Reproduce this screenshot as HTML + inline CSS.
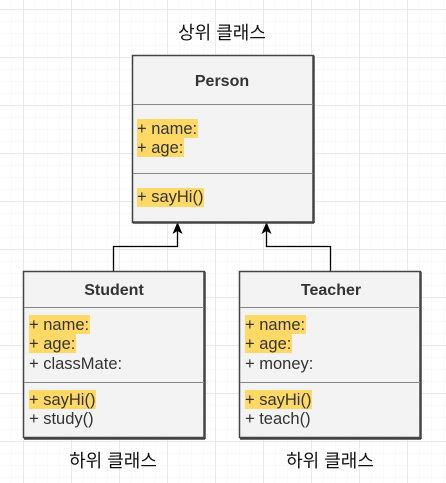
<!DOCTYPE html>
<html><head><meta charset="utf-8"><style>
body{margin:0;width:446px;height:483px;overflow:hidden;background:#fff;font-family:"Liberation Sans","Noto Sans CJK KR",sans-serif;}
svg{position:absolute;left:0;top:0}
</style></head><body>
<svg width="446" height="483" xmlns="http://www.w3.org/2000/svg" font-family="Liberation Sans, Noto Sans CJK KR, sans-serif">
<defs>
<pattern id="mi" width="12" height="12" patternUnits="userSpaceOnUse" x="11" y="9"><path d="M0 0H12M0 0V12" stroke="#f3f3f3" stroke-width="1" fill="none"/></pattern>
<pattern id="ma" width="48" height="48" patternUnits="userSpaceOnUse" x="23.5" y="9.5"><path d="M0 0H48M0 0V48" stroke="#e0e0e0" stroke-width="1" fill="none"/></pattern>
</defs>
<rect width="446" height="483" fill="url(#mi)"/>
<rect width="446" height="483" fill="url(#ma)"/>

<g stroke="#000" stroke-width="1.3" fill="none">
<path d="M113.5 271V246.5H177.5V228"/>
<path d="M330.5 271V246.5H266.5V228"/>
</g>
<path d="M177.5 222l-5 12 5-3 5 3z" fill="#000"/>
<path d="M266.5 222l-5 12 5-3 5 3z" fill="#000"/>

<g font-size="18" text-anchor="middle" fill="#111">
<text x="222" y="39">상위 클래스</text>
<text x="113" y="467">하위 클래스</text>
<text x="330" y="467">하위 클래스</text>
</g>

<!-- Person -->
<rect x="132.5" y="55.5" width="181" height="167" fill="#f3f3f3" stroke="#444" stroke-width="1.5"/>
<path d="M313.5 56V223M133 222.5H314" stroke="#444" stroke-width="2.5"/>
<path d="M133 104.5H313M133 173.5H313" stroke="#888" stroke-width="1"/>
<text x="222" y="86" font-size="16" font-weight="bold" text-anchor="middle" fill="#333">Person</text>
<rect x="137" y="119" width="61" height="19" fill="#ffd966"/>
<rect x="137" y="138" width="47" height="19" fill="#ffd966"/>
<rect x="137" y="188" width="67" height="19" fill="#ffd966"/>
<g font-size="16.5" fill="#333">
<text x="137" y="134">+ name:</text>
<text x="137" y="153">+ age:</text>
<text x="137" y="202">+ sayHi()</text>
</g>

<!-- Student -->
<rect x="23.5" y="271.5" width="181" height="166" fill="#f3f3f3" stroke="#444" stroke-width="1.5"/>
<path d="M204.5 272V439M24 438.5H205" stroke="#444" stroke-width="2.5"/>
<path d="M24 307.5H204M24 382.5H204" stroke="#888" stroke-width="1"/>
<text x="114" y="295" font-size="16" font-weight="bold" text-anchor="middle" fill="#333">Student</text>
<rect x="29" y="315" width="61" height="19" fill="#ffd966"/>
<rect x="29" y="334" width="47" height="19" fill="#ffd966"/>
<rect x="29" y="390" width="67" height="19" fill="#ffd966"/>
<g font-size="16.5" fill="#333">
<text x="29" y="330">+ name:</text>
<text x="29" y="349">+ age:</text>
<text x="29" y="369">+ classMate:</text>
<text x="29" y="405">+ sayHi()</text>
<text x="29" y="424">+ study()</text>
</g>

<!-- Teacher -->
<rect x="239.5" y="271.5" width="181" height="166" fill="#f3f3f3" stroke="#444" stroke-width="1.5"/>
<path d="M420.5 272V439M240 438.5H421" stroke="#444" stroke-width="2.5"/>
<path d="M240 307.5H420M240 382.5H420" stroke="#888" stroke-width="1"/>
<text x="331" y="295" font-size="16" font-weight="bold" text-anchor="middle" fill="#333">Teacher</text>
<rect x="245" y="315" width="61" height="19" fill="#ffd966"/>
<rect x="245" y="334" width="47" height="19" fill="#ffd966"/>
<rect x="245" y="390" width="67" height="19" fill="#ffd966"/>
<g font-size="16.5" fill="#333">
<text x="245" y="330">+ name:</text>
<text x="245" y="349">+ age:</text>
<text x="245" y="369">+ money:</text>
<text x="245" y="405">+ sayHi()</text>
<text x="245" y="424">+ teach()</text>
</g>
</svg>
</body></html>
